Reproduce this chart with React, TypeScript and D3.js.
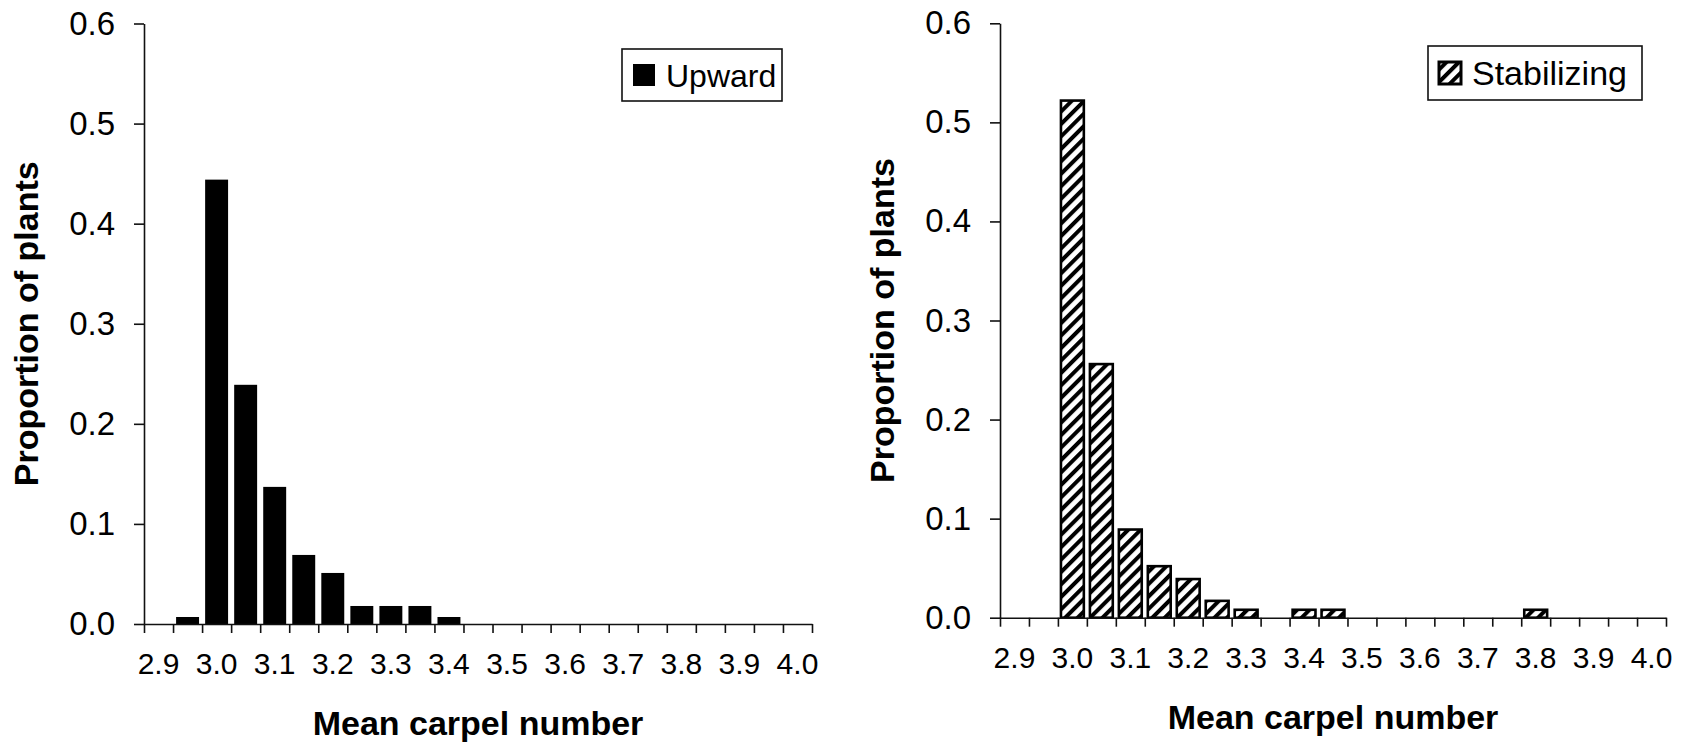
import React, { useEffect, useRef } from 'react';
import * as d3 from 'd3';

// mean carpel number classes (category axis, step 0.05)
const categories = [2.90, 2.95, 3.00, 3.05, 3.10, 3.15, 3.20, 3.25, 3.30, 3.35, 3.40, 3.45,
  3.50, 3.55, 3.60, 3.65, 3.70, 3.75, 3.80, 3.85, 3.90, 3.95, 4.00];

const upward = [0, 0.007, 0.444, 0.239, 0.137, 0.069, 0.051, 0.018, 0.018, 0.018, 0.007, 0,
  0, 0, 0, 0, 0, 0, 0, 0, 0, 0, 0];

const stabilizing = [0, 0, 0.522, 0.256, 0.089, 0.052, 0.039, 0.017, 0.008, 0, 0.008, 0.008,
  0, 0, 0, 0, 0, 0, 0.008, 0, 0, 0, 0];

// only every second class gets a label
const xTickLabels = ['2.9', '3.0', '3.1', '3.2', '3.3', '3.4', '3.5', '3.6', '3.7', '3.8', '3.9', '4.0'];
const yTicks = [0, 0.1, 0.2, 0.3, 0.4, 0.5, 0.6];

const FONT = '"Liberation Sans", Arial, Helvetica, sans-serif';

function drawPanel(svg, cfg) {
  const { left, right, top, bottom, values, hatched, legend, legendBox } = cfg;
  const g = svg.append('g');

  const y = d3.scaleLinear().domain([0, 0.6]).range([bottom, top]);
  // tick marks sit between classes
  const xEdge = d3.scaleLinear().domain([0, categories.length]).range([left, right]);
  const xBar = d3.scaleBand()
    .domain(categories.map(String))
    .range([left, right])
    .paddingInner(0.21)
    .paddingOuter(0.105);
  const xMid = d3.scaleBand().domain(categories.map(String)).range([left, right]);

  // bars
  g.selectAll('rect.bar')
    .data(categories.map((c, i) => ({ c, v: values[i] })).filter(d => d.v > 0))
    .join('rect')
    .attr('class', 'bar')
    .attr('x', d => xBar(String(d.c)))
    .attr('width', xBar.bandwidth())
    .attr('y', d => y(d.v))
    .attr('height', d => y(0) - y(d.v))
    .attr('fill', hatched ? 'url(#hatch)' : '#000')
    .attr('stroke', hatched ? '#000' : 'none')
    .attr('stroke-width', hatched ? 2.6 : 0);

  // y axis
  const yAxis = g.append('g')
    .attr('transform', `translate(${left},0)`)
    .call(d3.axisLeft(y)
      .tickValues(yTicks)
      .tickFormat(d3.format('.1f'))
      .tickSizeInner(10)
      .tickSizeOuter(0)
      .tickPadding(19));
  yAxis.selectAll('text').attr('font-size', 33).attr('font-family', FONT).attr('fill', '#000');

  // x axis (edge ticks)
  const xAxis = g.append('g')
    .attr('transform', `translate(0,${bottom})`)
    .call(d3.axisBottom(xEdge)
      .tickValues(d3.range(categories.length + 1))
      .tickFormat(() => '')
      .tickSizeInner(9)
      .tickSizeOuter(0));

  // x labels at every other class centre
  const labelled = categories.filter((_, i) => i % 2 === 0).map(String);
  const xLab = g.append('g')
    .attr('transform', `translate(0,${bottom})`)
    .call(d3.axisBottom(xMid)
      .tickValues(labelled)
      .tickFormat((d, i) => xTickLabels[i])
      .tickSize(0)
      .tickPadding(29));
  xLab.select('.domain').remove();
  xLab.selectAll('text').attr('font-size', 30).attr('font-family', FONT).attr('fill', '#000');

  [yAxis, xAxis].forEach(a => {
    a.select('.domain').attr('stroke', '#111').attr('stroke-width', 1.6);
    a.selectAll('line').attr('stroke', '#111').attr('stroke-width', 1.6);
  });

  // axis titles
  g.append('text')
    .attr('x', (left + right) / 2)
    .attr('y', bottom + 111)
    .attr('text-anchor', 'middle')
    .attr('font-family', FONT)
    .attr('font-weight', 'bold')
    .attr('font-size', 34)
    .text('Mean carpel number');

  g.append('text')
    .attr('transform', `translate(${left - 106},${(top + bottom) / 2}) rotate(-90)`)
    .attr('text-anchor', 'middle')
    .attr('font-family', FONT)
    .attr('font-weight', 'bold')
    .attr('font-size', 34)
    .text('Proportion of plants');

  // legend
  const lg = g.append('g');
  lg.append('rect')
    .attr('x', legendBox.x).attr('y', legendBox.y)
    .attr('width', legendBox.w).attr('height', legendBox.h)
    .attr('fill', '#fff').attr('stroke', '#111').attr('stroke-width', 1.6);
  lg.append('rect')
    .attr('x', legendBox.x + 11).attr('y', legendBox.y + legendBox.h / 2 - 11)
    .attr('width', 22).attr('height', 22)
    .attr('fill', hatched ? 'url(#hatch)' : '#000')
    .attr('stroke', '#000').attr('stroke-width', hatched ? 3 : 0);
  lg.append('text')
    .attr('x', legendBox.x + 44)
    .attr('y', legendBox.y + legendBox.h / 2 + 12)
    .attr('font-family', FONT)
    .attr('font-size', legendBox.fs)
    .text(legend);
}

export default function App() {
  const svgRef = useRef(null);

  useEffect(() => {
    const svg = d3.select(svgRef.current);
    svg.selectAll('*').remove();

    const defs = svg.append('defs');
    const pat = defs.append('pattern')
      .attr('id', 'hatch')
      .attr('patternUnits', 'userSpaceOnUse')
      .attr('width', 8.8)
      .attr('height', 8.8)
      .attr('patternTransform', 'rotate(45)');
    pat.append('rect').attr('width', 8.8).attr('height', 8.8).attr('fill', '#fff');
    pat.append('rect').attr('x', 0).attr('width', 4).attr('height', 8.8).attr('fill', '#000');

    drawPanel(svg, {
      left: 144, right: 812, top: 23.5, bottom: 624,
      values: upward, hatched: false, legend: 'Upward',
      legendBox: { x: 622, y: 49, w: 160, h: 52, fs: 32 },
    });

    drawPanel(svg, {
      left: 1000, right: 1666, top: 23.3, bottom: 617.7,
      values: stabilizing, hatched: true, legend: 'Stabilizing',
      legendBox: { x: 1428, y: 46, w: 214, h: 54, fs: 34 },
    });
  }, []);

  return (
    <svg
      ref={svgRef}
      width={1689}
      height={749}
      style={{ position: 'absolute', left: 0, top: 0, background: '#fff' }}
    />
  );
}
